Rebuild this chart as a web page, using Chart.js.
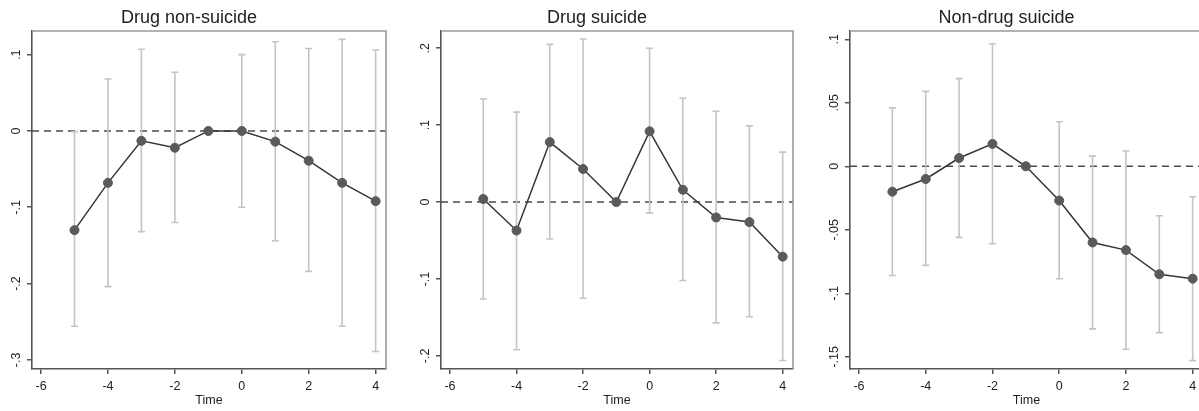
<!DOCTYPE html>
<html>
<head>
<meta charset="utf-8">
<script src="https://cdn.jsdelivr.net/npm/chart.js@4.4.1/dist/chart.umd.min.js"></script>
<style>
  html, body { margin: 0; padding: 0; background: #fff; overflow: hidden; }
  #wrap { position: relative; width: 1199px; height: 411px; overflow: hidden; background: #fff; }
  #wrap canvas { position: absolute; top: 0; }
</style>
</head>
<body>
<div id="wrap">
  <canvas id="p1"></canvas>
  <canvas id="p2"></canvas>
  <canvas id="p3"></canvas>
</div>
<script>
// Event time (periods relative to treatment)
const times = [-5, -4, -3, -2, -1, 0, 1, 2, 3, 4];
const xTicks = [-6, -4, -2, 0, 2, 4];

// Drug non-suicide: point estimates and 95% CI bounds (reference period -1 has no CI)
const drugNonSuicideEst = [-0.130, -0.068, -0.013, -0.022, 0, 0, -0.014, -0.039, -0.068, -0.092];
const drugNonSuicideLo  = [-0.256, -0.204, -0.132, -0.120, null, -0.100, -0.144, -0.184, -0.256, -0.289];
const drugNonSuicideHi  = [-0.001, 0.068, 0.107, 0.077, null, 0.100, 0.117, 0.108, 0.120, 0.106];
const drugNonSuicideTicks  = [0.1, 0, -0.1, -0.2, -0.3];
const drugNonSuicideLabels = ['.1', '0', '-.1', '-.2', '-.3'];

// Drug suicide
const drugSuicideEst = [0.004, -0.037, 0.078, 0.043, 0, 0.092, 0.016, -0.020, -0.026, -0.071];
const drugSuicideLo  = [-0.126, -0.192, -0.048, -0.125, null, -0.014, -0.102, -0.157, -0.149, -0.206];
const drugSuicideHi  = [0.134, 0.117, 0.205, 0.212, null, 0.200, 0.135, 0.118, 0.099, 0.065];
const drugSuicideTicks  = [0.2, 0.1, 0, -0.1, -0.2];
const drugSuicideLabels = ['.2', '.1', '0', '-.1', '-.2'];

// Non-drug suicide
const nonDrugSuicideEst = [-0.020, -0.010, 0.0065, 0.0176, 0, -0.027, -0.060, -0.066, -0.085, -0.0885];
const nonDrugSuicideLo  = [-0.086, -0.078, -0.056, -0.061, null, -0.0885, -0.128, -0.144, -0.131, -0.153];
const nonDrugSuicideHi  = [0.046, 0.059, 0.069, 0.0965, null, 0.035, 0.008, 0.012, -0.039, -0.024];
const nonDrugSuicideTicks  = [0.1, 0.05, 0, -0.05, -0.1, -0.15];
const nonDrugSuicideLabels = ['.1', '.05', '0', '-.05', '-.1', '-.15'];

const FONT = '"Liberation Sans", Arial, Helvetica, sans-serif';
const AXIS_W = 40;      // space reserved left of each plot region
const RIGHT_PAD = 40;   // same on the right so the title centres over the plot
const X_MIN = -6.27, X_MAX = 4.31;

const panels = [
  { id: 'p1', title: 'Drug non-suicide', plotLeft: 32,  plotWidth: 354,
    est: drugNonSuicideEst, lo: drugNonSuicideLo, hi: drugNonSuicideHi,
    yMin: -0.312, yMax: 0.131, yTicks: drugNonSuicideTicks, yLabels: drugNonSuicideLabels },
  { id: 'p2', title: 'Drug suicide', plotLeft: 441, plotWidth: 352,
    est: drugSuicideEst, lo: drugSuicideLo, hi: drugSuicideHi,
    yMin: -0.217, yMax: 0.2224, yTicks: drugSuicideTicks, yLabels: drugSuicideLabels },
  { id: 'p3', title: 'Non-drug suicide', plotLeft: 850, plotWidth: 353,
    est: nonDrugSuicideEst, lo: nonDrugSuicideLo, hi: nonDrugSuicideHi,
    yMin: -0.1596, yMax: 0.1065, yTicks: nonDrugSuicideTicks, yLabels: nonDrugSuicideLabels }
];

// Dashed zero line, confidence intervals, frame and rotated y labels
const decorPlugin = {
  id: 'decor',
  beforeDatasetsDraw(chart, args, opts) {
    const { ctx, chartArea: a, scales: { x, y } } = chart;
    const p = opts.panel;
    ctx.save();
    // zero reference line
    const y0 = y.getPixelForValue(0);
    ctx.strokeStyle = '#4a4a4a';
    ctx.lineWidth = 1.5;
    ctx.setLineDash([7, 5]);
    ctx.beginPath();
    ctx.moveTo(a.left, y0);
    ctx.lineTo(a.right, y0);
    ctx.stroke();
    ctx.setLineDash([]);
    // confidence intervals
    ctx.strokeStyle = '#c4c4c4';
    ctx.lineWidth = 1.6;
    times.forEach((t, i) => {
      if (p.lo[i] === null || p.hi[i] === null) return;
      const px = x.getPixelForValue(t);
      const pl = y.getPixelForValue(p.lo[i]);
      const ph = y.getPixelForValue(p.hi[i]);
      ctx.beginPath();
      ctx.moveTo(px, pl); ctx.lineTo(px, ph);
      ctx.moveTo(px - 3.5, pl); ctx.lineTo(px + 3.5, pl);
      ctx.moveTo(px - 3.5, ph); ctx.lineTo(px + 3.5, ph);
      ctx.stroke();
    });
    ctx.restore();
  },
  afterDraw(chart, args, opts) {
    const { ctx, chartArea: a, scales: { y } } = chart;
    const p = opts.panel;
    ctx.save();
    // top and right frame
    ctx.strokeStyle = '#9a9a9a';
    ctx.lineWidth = 1.6;
    ctx.beginPath();
    ctx.moveTo(a.left, a.top);
    ctx.lineTo(a.right, a.top);
    ctx.lineTo(a.right, a.bottom);
    ctx.stroke();
    // rotated y tick labels
    ctx.fillStyle = '#222';
    ctx.font = '12.5px ' + FONT;
    ctx.textAlign = 'center';
    ctx.textBaseline = 'alphabetic';
    p.yTicks.forEach((v, i) => {
      const py = y.getPixelForValue(v);
      ctx.save();
      ctx.translate(a.left - 12.5, py);
      ctx.rotate(-Math.PI / 2);
      ctx.fillText(p.yLabels[i], 0, 0);
      ctx.restore();
    });
    ctx.restore();
  }
};

panels.forEach(p => {
  const canvas = document.getElementById(p.id);
  const w = AXIS_W + p.plotWidth + RIGHT_PAD;
  canvas.width = w;
  canvas.height = 411;
  canvas.style.width = w + 'px';
  canvas.style.height = '411px';
  canvas.style.left = (p.plotLeft - AXIS_W) + 'px';

  new Chart(canvas, {
    type: 'scatter',
    data: {
      datasets: [{
        data: times.map((t, i) => ({ x: t, y: p.est[i] })),
        showLine: true,
        borderColor: '#363636',
        borderWidth: 1.5,
        pointRadius: 4.5,
        pointBorderWidth: 1,
        pointBackgroundColor: '#5a5a5a',
        pointBorderColor: '#5a5a5a',
        clip: false
      }]
    },
    options: {
      responsive: false,
      animation: false,
      devicePixelRatio: 1,
      layout: { padding: { left: 0, right: RIGHT_PAD, top: 0, bottom: 0 } },
      plugins: {
        legend: { display: false },
        tooltip: { enabled: false },
        title: {
          display: true,
          text: p.title,
          color: '#222',
          font: { family: FONT, size: 18, weight: 'normal', lineHeight: 1.2 },
          padding: { top: 6.8, bottom: 2.6 }
        },
        decor: { panel: p }
      },
      scales: {
        x: {
          type: 'linear',
          min: X_MIN,
          max: X_MAX,
          afterBuildTicks: s => { s.ticks = xTicks.map(v => ({ value: v })); },
          afterFit: s => { s.height = 42; },
          ticks: {
            color: '#222',
            font: { family: FONT, size: 12.5 },
            padding: 5,
            maxRotation: 0,
            autoSkip: false,
            callback: v => String(v)
          },
          grid: { drawOnChartArea: false, drawTicks: true, tickLength: 5, color: '#555', lineWidth: 1.5 },
          border: { display: true, color: '#555', width: 1.6 },
          title: {
            display: true,
            text: 'Time',
            color: '#222',
            font: { family: FONT, size: 12.5, lineHeight: 1.2 },
            padding: { top: 0, bottom: 3 }
          }
        },
        y: {
          type: 'linear',
          min: p.yMin,
          max: p.yMax,
          afterBuildTicks: s => { s.ticks = p.yTicks.map(v => ({ value: v })); },
          afterFit: s => { s.width = AXIS_W; },
          ticks: { display: false },
          grid: { drawOnChartArea: false, drawTicks: true, tickLength: 5, color: '#555', lineWidth: 1.5 },
          border: { display: true, color: '#555', width: 1.6 }
        }
      }
    },
    plugins: [decorPlugin]
  });
});
</script>
</body>
</html>
